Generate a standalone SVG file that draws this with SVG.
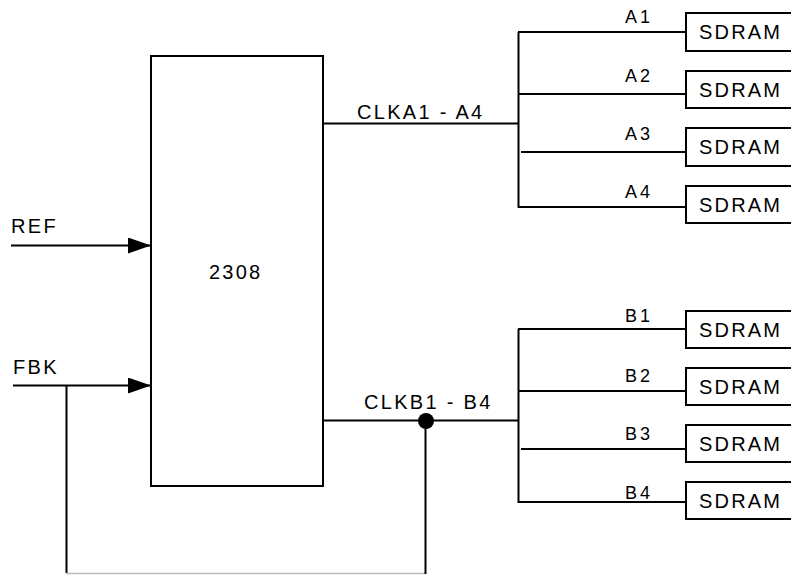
<svg xmlns="http://www.w3.org/2000/svg" width="791" height="575" viewBox="0 0 791 575">
<style>
text{font-family:"Liberation Sans",Arial,sans-serif;fill:#000}
.big{font-size:20px;letter-spacing:2.3px}
.lbl{font-size:18px;letter-spacing:3px}
.sd{font-size:20px;letter-spacing:2.2px}
.box{fill:#fff;stroke:#000;stroke-width:2}
.w{fill:none;stroke:#000;stroke-width:2}
</style>
<defs>
<marker id="arr" markerWidth="24" markerHeight="16" refX="23" refY="8" orient="auto" markerUnits="userSpaceOnUse">
<path d="M0,0 L23,8 L0,16 Z" fill="#000"/>
</marker>
</defs>
<rect width="791" height="575" fill="#fff"/>
<g id="connectors">
<line class="w" x1="11" y1="245.5" x2="151" y2="245.5" marker-end="url(#arr)"/>
<line class="w" x1="13" y1="385.5" x2="151" y2="385.5" marker-end="url(#arr)"/>
<polyline class="w" points="66.5,386 66.5,573"/>
<line x1="66" y1="573.5" x2="426" y2="573.5" stroke="#bbb" stroke-width="1.5"/>
<polyline class="w" points="425.5,420 425.5,574"/>
<circle cx="426" cy="421" r="8" fill="#000"/>
<line class="w" x1="323" y1="123.5" x2="518" y2="123.5" stroke-width="2.5"/>
<line class="w" x1="518.5" y1="32" x2="518.5" y2="208"/>
<line class="w" x1="518" y1="32" x2="686" y2="32"/>
<line class="w" x1="518" y1="94" x2="686" y2="94" stroke-width="2.8"/>
<line class="w" x1="521" y1="152" x2="689" y2="152" stroke-width="1.8"/>
<line class="w" x1="518" y1="207" x2="686" y2="207"/>
<line class="w" x1="323" y1="420.5" x2="518" y2="420.5"/>
<line class="w" x1="518.5" y1="329" x2="518.5" y2="503"/>
<line class="w" x1="518" y1="329" x2="686" y2="329"/>
<line class="w" x1="518" y1="391" x2="686" y2="391" stroke-width="2.5"/>
<line class="w" x1="521" y1="449" x2="686" y2="449"/>
<line class="w" x1="518" y1="502" x2="686" y2="502"/>
</g>
<g id="chip">
<rect class="box" x="151" y="56" width="172" height="430"/>
<text x="209" y="279" font-size="20" letter-spacing="2.2">2308</text>
</g>
<g id="labels">
<text class="big" x="11" y="233">REF</text>
<text class="big" x="13" y="374">FBK</text>
<text class="big" x="357" y="119">CLKA1 - A4</text>
<text class="big" x="364" y="409">CLKB1 - B4</text>
<text class="lbl" x="625" y="23">A1</text>
<text class="lbl" x="625" y="82">A2</text>
<text class="lbl" x="625" y="140">A3</text>
<text class="lbl" x="625" y="198">A4</text>
<text class="lbl" x="625" y="322">B1</text>
<text class="lbl" x="625" y="382">B2</text>
<text class="lbl" x="625" y="440">B3</text>
<text class="lbl" x="625" y="499">B4</text>
</g>
<g id="sdram-a1"><rect class="box" x="686" y="13" width="110" height="38"/><text class="sd" x="699" y="39">SDRAM</text></g>
<g id="sdram-a2"><rect class="box" x="686" y="71" width="110" height="37"/><text class="sd" x="699" y="97">SDRAM</text></g>
<g id="sdram-a3"><rect class="box" x="686" y="128" width="110" height="38"/><text class="sd" x="699" y="154">SDRAM</text></g>
<g id="sdram-a4"><rect class="box" x="686" y="186" width="110" height="37"/><text class="sd" x="699" y="212">SDRAM</text></g>
<g id="sdram-b1"><rect class="box" x="686" y="311" width="110" height="37"/><text class="sd" x="699" y="337">SDRAM</text></g>
<g id="sdram-b2"><rect class="box" x="686" y="368" width="110" height="37"/><text class="sd" x="699" y="394">SDRAM</text></g>
<g id="sdram-b3"><rect class="box" x="686" y="425" width="110" height="37"/><text class="sd" x="699" y="451">SDRAM</text></g>
<g id="sdram-b4"><rect class="box" x="686" y="482" width="110" height="37"/><text class="sd" x="699" y="508">SDRAM</text></g>
</svg>
